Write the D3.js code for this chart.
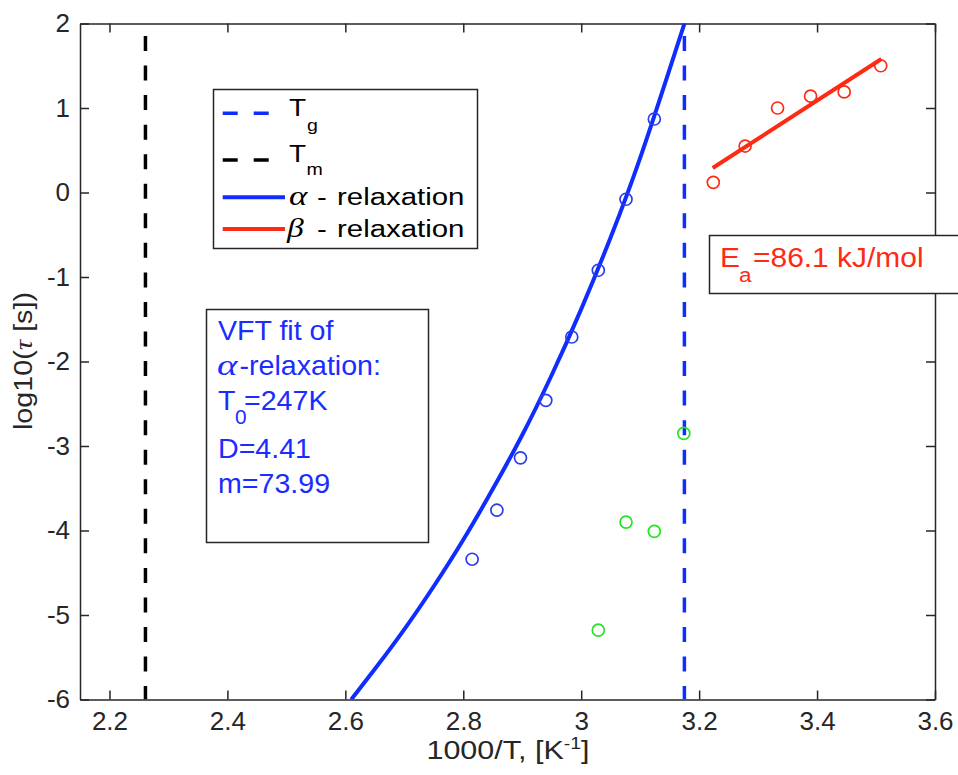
<!DOCTYPE html>
<html>
<head>
<meta charset="utf-8">
<script src="https://cdn.jsdelivr.net/npm/d3@7"></script>
<style>
  html, body { margin: 0; padding: 0; background: #fff; }
  svg { display: block; }
  text { font-family: "Liberation Sans", Arial, Helvetica, sans-serif; }
</style>
</head>
<body>
<svg id="chart" width="958" height="775"></svg>
<script>
// ---- data ----
const xTicks = [2.2, 2.4, 2.6, 2.8, 3.0, 3.2, 3.4, 3.6];
const xTickLabels = ["2.2", "2.4", "2.6", "2.8", "3", "3.2", "3.4", "3.6"];
const yTicks = [-6, -5, -4, -3, -2, -1, 0, 1, 2];
const yTickLabels = ["-6", "-5", "-4", "-3", "-2", "-1", "0", "1", "2"];

const alphaX = [2.815, 2.857, 2.897, 2.940, 2.984, 3.029, 3.076, 3.124];
const alphaY = [-4.34, -3.76, -3.14, -2.46, -1.71, -0.92, -0.08, 0.87];

const betaX = [3.224, 3.278, 3.333, 3.389, 3.446, 3.508];
const betaY = [0.12, 0.55, 1.00, 1.14, 1.19, 1.50];

const greenX = [3.029, 3.076, 3.124, 3.174];
const greenY = [-5.18, -3.90, -4.01, -2.85];

const vftX = [2.61, 2.65, 2.70, 2.75, 2.80, 2.85, 2.90, 2.95, 3.00, 3.05, 3.10, 3.15, 3.176];
const vftY = [-6.00, -5.64, -5.17, -4.66, -4.11, -3.51, -2.87, -2.16, -1.38, -0.53, 0.41, 1.46, 2.02];

const betaFitX = [3.223, 3.509];
const betaFitY = [0.29, 1.58];

const TgX = 3.175;
const TmX = 2.261;

// ---- layout ----
const L = 80, R = 935, T = 23.5, B = 699.5;
const svg = d3.select("#chart");
const x = d3.scaleLinear().domain([2.15, 3.6]).range([L, R]);
const y = d3.scaleLinear().domain([-6, 2]).range([B, T]);

const blue = "#0f2dff", red = "#ff2a14", green = "#22e622", axisCol = "#262626";
const serif = "'Liberation Serif', 'DejaVu Serif', serif";

svg.append("defs").append("clipPath").attr("id", "clip")
  .append("rect").attr("x", L).attr("y", T).attr("width", R - L).attr("height", B - T);

// axes
function styleAxis(g) {
  g.selectAll("path.domain").attr("stroke", axisCol).attr("stroke-width", 1.5);
  g.selectAll(".tick line").attr("stroke", axisCol).attr("stroke-width", 1.5);
  g.selectAll(".tick text").attr("fill", axisCol).style("font-size", "26px")
    .style("font-family", "'Liberation Sans', Arial, Helvetica, sans-serif");
}
const xb = svg.append("g").attr("transform", `translate(0,${B})`)
  .call(d3.axisBottom(x).tickValues(xTicks).tickFormat((d, i) => xTickLabels[i])
    .tickSizeInner(-9).tickSizeOuter(0).tickPadding(12));
styleAxis(xb);
const xt = svg.append("g").attr("transform", `translate(0,${T})`)
  .call(d3.axisTop(x).tickValues(xTicks).tickFormat("").tickSizeInner(-9).tickSizeOuter(0));
styleAxis(xt);
const yl = svg.append("g").attr("transform", `translate(${L},0)`)
  .call(d3.axisLeft(y).tickValues(yTicks).tickFormat((d, i) => yTickLabels[i])
    .tickSizeInner(-9).tickSizeOuter(0).tickPadding(10));
styleAxis(yl);
const yr = svg.append("g").attr("transform", `translate(${R},0)`)
  .call(d3.axisRight(y).tickValues(yTicks).tickFormat("").tickSizeInner(-9).tickSizeOuter(0));
styleAxis(yr);

const plot = svg.append("g").attr("clip-path", "url(#clip)");

// Tm & Tg vertical dashed lines (drawn top to bottom)
plot.append("line").attr("x1", x(TmX)).attr("x2", x(TmX)).attr("y1", y(2)).attr("y2", y(-6))
  .attr("stroke", "#000").attr("stroke-width", 3.5)
  .attr("stroke-dasharray", "15,14.55").attr("stroke-dashoffset", 17.05);
plot.append("line").attr("x1", x(TgX)).attr("x2", x(TgX)).attr("y1", y(2)).attr("y2", y(-6))
  .attr("stroke", blue).attr("stroke-width", 3.5)
  .attr("stroke-dasharray", "15,14.55").attr("stroke-dashoffset", 17.05);

// VFT curve
const line = d3.line().x(d => x(d[0])).y(d => y(d[1])).curve(d3.curveNatural);
plot.append("path").datum(vftX.map((v, i) => [v, vftY[i]]))
  .attr("d", line).attr("fill", "none").attr("stroke", blue).attr("stroke-width", 4);

// beta fit line
plot.append("path").datum(betaFitX.map((v, i) => [v, betaFitY[i]]))
  .attr("d", d3.line().x(d => x(d[0])).y(d => y(d[1])))
  .attr("fill", "none").attr("stroke", red).attr("stroke-width", 4);

// markers
function circles(xs, ys, col) {
  plot.append("g").selectAll("circle").data(xs.map((v, i) => [v, ys[i]])).join("circle")
    .attr("cx", d => x(d[0])).attr("cy", d => y(d[1])).attr("r", 6)
    .attr("fill", "none").attr("stroke", col).attr("stroke-width", 1.7);
}
circles(alphaX, alphaY, "#2a3cf0");
circles(betaX, betaY, red);
circles(greenX, greenY, green);

// helper: text with horizontal stretch
function label(parent, tx, ty, str, size, sx, fill, opts = {}) {
  const g = parent.append("g").attr("transform", `translate(${tx},${ty}) scale(${sx},1)`);
  const t = g.append("text").attr("x", 0).attr("y", 0).style("font-size", size + "px").attr("fill", fill).text(str);
  if (opts.italic) t.style("font-style", "italic");
  if (opts.family) t.style("font-family", opts.family);
  return t;
}

// legend
const lg = svg.append("g");
lg.append("rect").attr("x", 213.5).attr("y", 89.5).attr("width", 264).attr("height", 159)
  .attr("fill", "#fff").attr("stroke", axisCol).attr("stroke-width", 1.5);
lg.append("line").attr("x1", 222.7).attr("x2", 269.3).attr("y1", 113.3).attr("y2", 113.3)
  .attr("stroke", blue).attr("stroke-width", 3.5).attr("stroke-dasharray", "15,16");
lg.append("line").attr("x1", 222.7).attr("x2", 269.3).attr("y1", 160).attr("y2", 160)
  .attr("stroke", "#000").attr("stroke-width", 3.5).attr("stroke-dasharray", "15,16");
lg.append("line").attr("x1", 222.7).attr("x2", 285).attr("y1", 197.3).attr("y2", 197.3)
  .attr("stroke", blue).attr("stroke-width", 4);
lg.append("line").attr("x1", 222.7).attr("x2", 285).attr("y1", 229).attr("y2", 229)
  .attr("stroke", red).attr("stroke-width", 4);
label(lg, 289, 116, "T", 23, 1.22, "#000");
label(lg, 307, 131, "g", 17, 1.15, "#000");
label(lg, 289, 161.5, "T", 23, 1.22, "#000");
label(lg, 306.5, 175, "m", 17, 1.15, "#000");
label(lg, 289, 205, "α", 28, 1.25, "#000", { italic: true, family: serif });
label(lg, 317, 205, "-", 24.5, 1.2, "#000");
label(lg, 337, 205, "relaxation", 24.5, 1.2, "#000");
label(lg, 287, 236.7, "β", 28, 1.2, "#000", { italic: true, family: serif });
label(lg, 317, 236.7, "-", 24.5, 1.2, "#000");
label(lg, 337, 236.7, "relaxation", 24.5, 1.2, "#000");

// VFT box
const vb = svg.append("g");
vb.append("rect").attr("x", 206.5).attr("y", 309.5).attr("width", 222).attr("height", 233)
  .attr("fill", "#fff").attr("stroke", axisCol).attr("stroke-width", 1.5);
const tb = "#1a2cff";
label(vb, 218, 340, "VFT fit of", 27.5, 1.04, tb);
label(vb, 217, 375, "α", 30, 1.3, tb, { italic: true, family: serif });
label(vb, 239.5, 375, "-relaxation:", 27.5, 1.04, tb);
label(vb, 218, 410, "T", 27.5, 1.04, tb);
label(vb, 235, 424, "0", 20, 1.04, tb);
label(vb, 244, 410, "=247K", 27.5, 1.04, tb);
label(vb, 218, 458.3, "D=4.41", 27.5, 1.04, tb);
label(vb, 218, 492.7, "m=73.99", 27.5, 1.04, tb);

// Ea box
const eb = svg.append("g");
eb.append("rect").attr("x", 709.5).attr("y", 235.5).attr("width", 260).attr("height", 58)
  .attr("fill", "#fff").attr("stroke", axisCol).attr("stroke-width", 1.5);
label(eb, 720, 266.7, "E", 28, 1.07, red);
label(eb, 739, 281.7, "a", 21, 1.07, red);
label(eb, 753, 266.7, "=86.1 kJ/mol", 28, 1.07, red);

// axis labels
const xg = svg.append("g").attr("transform", "translate(508,759) scale(1.22,1)");
const xlab = xg.append("text").attr("x", 0).attr("y", 0).attr("text-anchor", "middle")
  .style("font-size", "25px").attr("fill", axisCol);
xlab.append("tspan").text("1000/T, [K");
xlab.append("tspan").attr("dy", -10).style("font-size", "16px").text("-1");
xlab.append("tspan").attr("dy", 10).text("]");

const yg = svg.append("g").attr("transform", "translate(32,361) rotate(-90) scale(1.15,1)");
const ylab = yg.append("text").attr("x", 0).attr("y", 0)
  .attr("text-anchor", "middle").style("font-size", "25px").attr("fill", axisCol);
ylab.append("tspan").text("log10(");
ylab.append("tspan").style("font-style", "italic").style("font-family", serif).text("τ");
ylab.append("tspan").text(" [s])");
</script>
</body>
</html>
